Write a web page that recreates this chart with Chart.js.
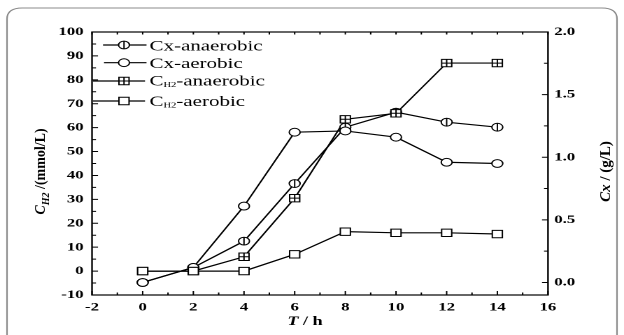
<!DOCTYPE html>
<html><head><meta charset="utf-8">
<script src="https://cdn.jsdelivr.net/npm/chart.js@4.4.1/dist/chart.umd.min.js"></script>
<style>
html,body{margin:0;padding:0;background:#fff;overflow:hidden;}
#wrap{width:624px;height:335px;position:relative;overflow:hidden;background:#fff;}
#c{position:absolute;left:0;top:0;transform-origin:0 0;}
</style></head><body>
<div id="wrap"><canvas id="c" width="446" height="335"></canvas></div>
<script>
// ---- data ----
const timeH = [0, 2, 4, 6, 8, 10, 12, 14];
const cxAnaerobic = [0.00, 0.12, 0.33, 0.79, 1.24, 1.36, 1.28, 1.24];
const cxAerobic = [0.00, 0.12, 0.61, 1.20, 1.21, 1.16, 0.96, 0.95];
const ch2Anaerobic = [0, 0, 6, 30.5, 63.5, 66, 87, 87];
const ch2Aerobic = [0, 0, 0, 7, 16.5, 16, 16, 15.5];
const xTicks = [-2, 0, 2, 4, 6, 8, 10, 12, 14, 16];
const leftTicks = [-10, 0, 10, 20, 30, 40, 50, 60, 70, 80, 90, 100];
const rightTicks = [0, 0.5, 1.0, 1.5, 2.0];
const seriesNames = ['Cx-anaerobic', 'Cx-aerobic', 'C|H2|-anaerobic', 'C|H2|-aerobic'];

// ---- layout helpers ----
const W = 446, H = 335, S = 624 / W;
const SERIF = '"Liberation Serif","Times New Roman",serif';
const canvas = document.getElementById('c');
canvas.style.transform = 'scaleX(' + S + ')';

const markerKinds = ['circleBar', 'circle', 'rectCross', 'rect'];
function drawMarker(ctx, kind, x, y) {
  ctx.save();
  ctx.lineWidth = 1;
  ctx.strokeStyle = '#000';
  ctx.fillStyle = '#fff';
  ctx.beginPath();
  if (kind === 'circle' || kind === 'circleBar') {
    const r = 3.9;
    ctx.arc(x, y, r, 0, Math.PI * 2);
    ctx.fill(); ctx.stroke();
    if (kind === 'circleBar') {
      ctx.beginPath(); ctx.moveTo(x, y - r); ctx.lineTo(x, y + r); ctx.stroke();
    }
  } else {
    const hw = 3.6, hh = 3.7;
    ctx.rect(x - hw, y - hh, 2 * hw, 2 * hh);
    ctx.fill(); ctx.stroke();
    if (kind === 'rectCross') {
      ctx.beginPath();
      ctx.moveTo(x, y - hh); ctx.lineTo(x, y + hh);
      ctx.moveTo(x - hw, y); ctx.lineTo(x + hw, y);
      ctx.stroke();
    }
  }
  ctx.restore();
}

function drawSubText(ctx, x, y, spec, mainFont, subFont, subDy) {
  const parts = spec.split('|');
  let cx = x;
  parts.forEach((p, i) => {
    if (!p) return;
    const sub = i % 2 === 1;
    ctx.font = sub ? subFont : mainFont;
    ctx.fillText(p, cx, sub ? y + subDy : y);
    cx += ctx.measureText(p).width;
  });
}

const decoPlugin = {
  id: 'deco',
  beforeDraw(chart) {
    const ctx = chart.ctx;
    ctx.save();
    ctx.strokeStyle = '#8a8a8a';
    ctx.lineWidth = 1.1;
    const x0 = 7 / S, y0 = 8, x1 = 617 / S, y1 = 360, r = 11;
    ctx.beginPath();
    ctx.moveTo(x0, y1);
    ctx.lineTo(x0, y0 + r);
    ctx.quadraticCurveTo(x0, y0, x0 + r, y0);
    ctx.lineTo(x1 - r, y0);
    ctx.quadraticCurveTo(x1, y0, x1, y0 + r);
    ctx.lineTo(x1, y1);
    ctx.stroke();
    ctx.restore();
  },
  afterDatasetsDraw(chart) {
    const ctx = chart.ctx;
    const a = chart.chartArea;
    const sx = chart.scales.x, sy = chart.scales.y, sy1 = chart.scales.y1;
    ctx.save();
    ctx.strokeStyle = '#000';
    // box
    ctx.lineWidth = 1.2;
    ctx.strokeRect(a.left, a.top, a.right - a.left, a.bottom - a.top);
    // ticks
    ctx.lineWidth = 1;
    ctx.beginPath();
    for (let v = -10; v <= 100; v += 5) {
      const p = sy.getPixelForValue(v);
      const len = (v % 10 === 0) ? 6 / S : 4 / S;
      ctx.moveTo(a.left, p); ctx.lineTo(a.left + len, p);
    }
    for (let v = 0; v <= 2.0001; v += 0.25) {
      const p = sy1.getPixelForValue(v);
      const major = Math.abs(v * 2 - Math.round(v * 2)) < 1e-6;
      const len = major ? 6 / S : 4 / S;
      ctx.moveTo(a.right, p); ctx.lineTo(a.right - len, p);
    }
    for (let v = -2; v <= 16; v += 1) {
      const p = sx.getPixelForValue(v);
      const len = (v % 2 === 0) ? 4 : 2.5;
      ctx.moveTo(p, a.bottom); ctx.lineTo(p, a.bottom - len);
      ctx.moveTo(p, a.top); ctx.lineTo(p, a.top + 2.5);
    }
    ctx.stroke();
    ctx.restore();

    // markers
    chart.data.datasets.forEach((ds, i) => {
      const meta = chart.getDatasetMeta(i);
      meta.data.forEach(pt => drawMarker(ctx, markerKinds[i], pt.x, pt.y));
    });

    // legend
    const rows = [
      { my: 45, x0: 103 / S, x1: 146.5 / S, ty: 50.5 },
      { my: 62.7, x0: 104 / S, x1: 146.5 / S, ty: 68 },
      { my: 81, x0: 93 / S, x1: 145 / S, ty: 85.5 },
      { my: 101, x0: 93 / S, x1: 145 / S, ty: 106 }
    ];
    ctx.save();
    ctx.fillStyle = '#000';
    ctx.textBaseline = 'alphabetic';
    ctx.textAlign = 'left';
    rows.forEach((r, i) => {
      ctx.strokeStyle = '#000';
      ctx.lineWidth = 1.2;
      ctx.beginPath(); ctx.moveTo(r.x0, r.my); ctx.lineTo(r.x1, r.my); ctx.stroke();
      drawMarker(ctx, markerKinds[i], 124 / S, r.my);
      drawSubText(ctx, 149.5 / S, r.ty, seriesNames[i], '15px ' + SERIF, '7.5px ' + SERIF, 1.5);
    });
    ctx.restore();

    // axis titles
    ctx.save();
    ctx.fillStyle = '#000';
    ctx.textBaseline = 'alphabetic';
    // left title (rotated, unstretched)
    ctx.save();
    ctx.translate(45 / S, 171.5);
    ctx.scale(1 / S, 1);
    ctx.rotate(-Math.PI / 2);
    const lParts = [['C', 'italic bold 14px ' + SERIF, 0], ['H2', 'italic bold 10px ' + SERIF, 4], [' /(mmol/L)', 'bold 14px ' + SERIF, 0]];
    let tw = 0;
    lParts.forEach(p => { ctx.font = p[1]; tw += ctx.measureText(p[0]).width; });
    let cx = -tw / 2;
    lParts.forEach(p => { ctx.font = p[1]; ctx.fillText(p[0], cx, p[2]); cx += ctx.measureText(p[0]).width; });
    ctx.restore();
    // right title
    ctx.save();
    ctx.translate(610 / S, 171.5);
    ctx.scale(1 / S, 1);
    ctx.rotate(-Math.PI / 2);
    const rParts = [['Cx', 'italic bold 15px ' + SERIF], [' / (g/L)', 'bold 15px ' + SERIF]];
    tw = 0;
    rParts.forEach(p => { ctx.font = p[1]; tw += ctx.measureText(p[0]).width; });
    cx = -tw / 2;
    rParts.forEach(p => { ctx.font = p[1]; ctx.fillText(p[0], cx, 0); cx += ctx.measureText(p[0]).width; });
    ctx.restore();
    // x title
    const xParts = [['T', 'italic bold 13px ' + SERIF], [' / h', 'bold 13px ' + SERIF]];
    tw = 0;
    xParts.forEach(p => { ctx.font = p[1]; tw += ctx.measureText(p[0]).width; });
    cx = 305 / S - tw / 2;
    xParts.forEach(p => { ctx.font = p[1]; ctx.fillText(p[0], cx, 325); cx += ctx.measureText(p[0]).width; });
    ctx.restore();
  }
};

function pts(arr) { return timeH.map((t, i) => ({ x: t, y: arr[i] })); }
const tickFont = { family: SERIF, size: 12, weight: 'bold' };
const chartLeft = 92 / S, chartRight = 548 / S;

new Chart(canvas, {
  type: 'line',
  data: {
    datasets: [
      { label: 'Cx-anaerobic', data: pts(cxAnaerobic), yAxisID: 'y1' },
      { label: 'Cx-aerobic', data: pts(cxAerobic), yAxisID: 'y1' },
      { label: 'CH2-anaerobic', data: pts(ch2Anaerobic), yAxisID: 'y' },
      { label: 'CH2-aerobic', data: pts(ch2Aerobic), yAxisID: 'y' }
    ].map(d => Object.assign(d, { borderColor: '#000', backgroundColor: '#fff', borderWidth: 1.2, pointRadius: 0, tension: 0, fill: false }))
  },
  options: {
    responsive: false,
    devicePixelRatio: 2,
    animation: false,
    layout: { padding: { top: 32, left: 0, right: 0, bottom: 0 } },
    plugins: { legend: { display: false }, tooltip: { enabled: false } },
    scales: {
      x: {
        type: 'linear', min: -2, max: 16,
        afterBuildTicks: s => { s.ticks = xTicks.map(v => ({ value: v })); },
        afterFit: s => { s.height = H - 295; },
        grid: { display: false, drawTicks: false }, border: { display: false },
        ticks: { font: tickFont, color: '#000', padding: 5, maxRotation: 0, autoSkip: false }
      },
      y: {
        type: 'linear', position: 'left', min: -10, max: 100,
        afterBuildTicks: s => { s.ticks = leftTicks.map(v => ({ value: v })); },
        afterFit: s => { s.width = chartLeft; },
        grid: { display: false, drawTicks: false }, border: { display: false },
        ticks: { font: tickFont, color: '#000', padding: 6, autoSkip: false }
      },
      y1: {
        type: 'linear', position: 'right', min: -0.1, max: 2.0,
        afterBuildTicks: s => { s.ticks = rightTicks.map(v => ({ value: v })); },
        afterFit: s => { s.width = W - chartRight; },
        grid: { display: false, drawTicks: false }, border: { display: false },
        ticks: { font: tickFont, color: '#000', padding: 4.5, autoSkip: false, callback: v => Number(v).toFixed(1) }
      }
    }
  },
  plugins: [decoPlugin]
});
</script>
</body></html>
